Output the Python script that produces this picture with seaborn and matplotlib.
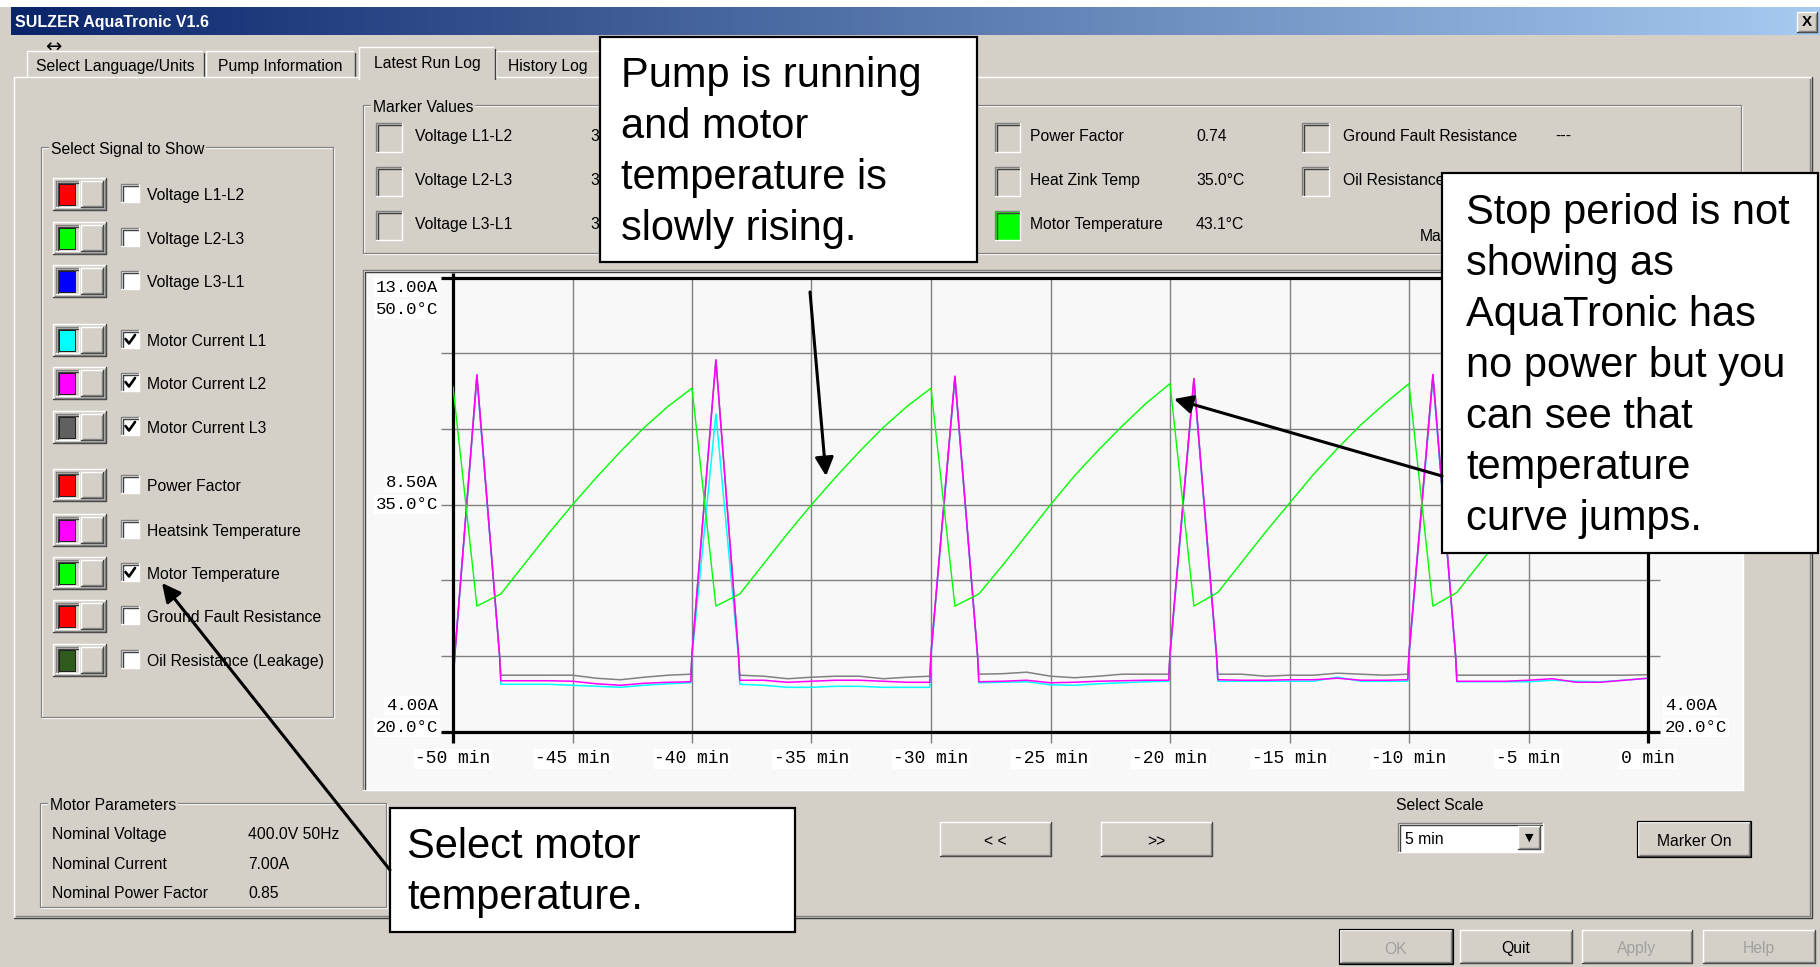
import matplotlib
matplotlib.use('Agg')
import matplotlib.pyplot as plt
from matplotlib.patches import Rectangle
from matplotlib.colors import LinearSegmentedColormap
import numpy as np
import pandas as pd
import seaborn as sns

# latest run log (minutes before now)
t_current = [-50, -49.92, -49, -48.05, -48, -47, -46, -45, -44, -43, -42, -41, -40.05,
             -40, -39, -38.05, -38, -37, -36, -35, -34, -33, -32, -31, -30.05,
             -30, -29, -28.05, -28, -27, -26, -25, -24, -23, -22, -21, -20.05,
             -20, -19, -18.05, -18, -17, -16, -15, -14, -13, -12, -11, -10.05,
             -10, -9, -8.05, -8, -7, -6, -5, -4, -3, -2, -1, 0]
current_l1 = [4.93, 5.55, 11.0, 5.5, 4.94, 4.94, 4.94, 4.92, 4.90, 4.88, 4.92, 4.95, 4.97,
              5.5, 10.3, 5.45, 4.94, 4.92, 4.88, 4.88, 4.90, 4.90, 4.88, 4.88, 4.88,
              5.5, 11.0, 5.5, 4.97, 4.98, 4.99, 4.93, 4.92, 4.95, 4.97, 4.99, 5.0,
              5.5, 10.95, 5.45, 5.0, 5.0, 5.0, 5.0, 5.0, 5.08, 5.0, 5.0, 5.0,
              5.5, 11.0, 5.5, 4.99, 4.99, 4.99, 4.99, 5.02, 5.0, 4.99, 5.02, 5.06]
current_l2 = [4.95, 5.55, 11.08, 5.5, 5.01, 5.01, 5.01, 5.0, 4.95, 4.92, 4.96, 4.98, 4.99,
              5.55, 11.37, 5.5, 5.02, 5.02, 4.98, 5.0, 5.02, 5.02, 5.0, 4.98, 4.98,
              5.55, 11.05, 5.5, 4.99, 5.0, 5.02, 4.97, 4.98, 5.0, 5.01, 5.02, 5.02,
              5.55, 11.0, 5.5, 5.03, 5.02, 5.02, 5.03, 5.03, 5.06, 5.02, 5.02, 5.03,
              5.55, 11.08, 5.5, 5.0, 5.0, 5.0, 5.02, 5.05, 4.98, 4.98, 5.02, 5.06]
current_l3 = [4.97, 5.55, 11.06, 5.5, 5.12, 5.12, 5.12, 5.12, 5.06, 5.03, 5.08, 5.12, 5.14,
              5.55, 11.37, 5.5, 5.12, 5.10, 5.05, 5.08, 5.10, 5.10, 5.05, 5.08, 5.10,
              5.55, 11.03, 5.5, 5.14, 5.15, 5.18, 5.10, 5.07, 5.10, 5.14, 5.14, 5.14,
              5.55, 11.0, 5.5, 5.14, 5.14, 5.10, 5.12, 5.12, 5.16, 5.14, 5.12, 5.14,
              5.55, 11.08, 5.5, 5.12, 5.12, 5.12, 5.12, 5.12, 5.12, 5.12, 5.12, 5.13]

t_temp = [-50, -49, -48, -47, -46, -45, -44, -43, -42, -41,
          -40, -39, -38, -37, -36, -35, -34, -33, -32, -31,
          -30, -29, -28, -27, -26, -25, -24, -23, -22, -21,
          -20, -19, -18, -17, -16, -15, -14, -13, -12, -11,
          -10, -9, -8, -7, -6, -5, -4, -3, -2, -1, 0]
motor_temp = [42.8, 28.3, 29.1, 31.1, 33.1, 35.0, 36.8, 38.5, 40.1, 41.5,
              42.7, 28.3, 29.1, 31.1, 33.1, 35.0, 36.8, 38.5, 40.1, 41.5,
              42.7, 28.3, 29.1, 31.0, 33.0, 35.0, 36.9, 38.6, 40.2, 41.7,
              43.0, 28.3, 29.2, 31.2, 33.2, 35.1, 37.0, 38.7, 40.3, 41.7,
              43.0, 28.3, 29.2, 31.2, 33.2, 35.1, 37.0, 38.7, 40.3, 41.7, 43.1]

x_ticks = [-50, -45, -40, -35, -30, -25, -20, -15, -10, -5, 0]
x_labels = ['-50 min', '-45 min', '-40 min', '-35 min', '-30 min', '-25 min',
            '-20 min', '-15 min', '-10 min', '-5 min', '0 min']
amp_grid = [5.5, 7.0, 8.5, 10.0, 11.5]
amp_ticks = [13.0, 8.5, 4.0]
amp_labels = ['13.00A', '8.50A', '4.00A']
temp_ticks = [50.0, 35.0, 20.0]
temp_labels = ['50.0°C', '35.0°C', '20.0°C']

signal_names = ['Voltage L1-L2', 'Voltage L2-L3', 'Voltage L3-L1', 'Motor Current L1',
                'Motor Current L2', 'Motor Current L3', 'Power Factor', 'Heatsink Temperature',
                'Motor Temperature', 'Ground Fault Resistance', 'Oil Resistance (Leakage)']
signal_colors = ['#FF0000', '#00FF00', '#0000FF', '#00FFFF', '#FF00FF', '#606060',
                 '#FF0000', '#FF00FF', '#00FF00', '#FF0000', '#2E5A1C']
signal_checked = [False, False, False, True, True, True, False, False, True, False, False]

marker_left = ['Voltage L1-L2', 'Voltage L2-L3', 'Voltage L3-L1']
marker_left_vals = ['3', '3', '3']
marker_mid = ['Power Factor', 'Heat Zink Temp', 'Motor Temperature']
marker_mid_vals = ['0.74', '35.0°C', '43.1°C']
marker_mid_fill = [None, None, '#00FF00']
marker_right = ['Ground Fault Resistance', 'Oil Resistance (Leakage)']
marker_right_vals = ['---', '']

motor_params = ['Nominal Voltage', 'Nominal Current', 'Nominal Power Factor']
motor_param_vals = ['400.0V 50Hz', '7.00A', '0.85']

tab_names = ['Select Language/Units', 'Pump Information', 'Latest Run Log', 'History Log']

notes = [['Pump is running', 'and motor', 'temperature is', 'slowly rising.'],
         ['Stop period is not', 'showing as', 'AquaTronic has', 'no power but you',
          'can see that', 'temperature', 'curve jumps.'],
         ['Select motor', 'temperature.']]

sns.set_style('white')
plt.rcParams['font.family'] = ['Liberation Sans', 'DejaVu Sans']
plt.rcParams['text.color'] = 'black'
plt.rcParams['xtick.color'] = 'black'
plt.rcParams['ytick.color'] = 'black'

W, H = 1820, 967
PX = 0.72
FACE = '#D4D0C8'
MONO = 'Liberation Mono'
GUI_SIZE = 11.3

fig = plt.figure(figsize=(W / 100, H / 100), dpi=100)
fig.patch.set_facecolor('white')

ui = fig.add_axes([0, 0, 1, 1], zorder=0)


def box(a, x0, y0, x1, y1, fc, ec='none', lw=0, z=1):
    a.add_patch(Rectangle((x0, y0), x1 - x0, y1 - y0, facecolor=fc, edgecolor=ec,
                          linewidth=lw * PX, zorder=z))


def edge(a, x0, y0, x1, y1, raised=True, z=2):
    if raised:
        tl, br, inner = 'white', '#404040', '#808080'
    else:
        tl, br, inner = '#808080', 'white', '#404040'
    a.plot([x0, x0, x1], [y1, y0, y0], color=tl, lw=1.4 * PX, zorder=z)
    a.plot([x0, x1, x1], [y1, y1, y0], color=br, lw=1.4 * PX, zorder=z)
    if raised:
        a.plot([x0 + 1.5, x1 - 1.5, x1 - 1.5], [y1 - 1.5, y1 - 1.5, y0 + 1.5], color=inner, lw=1.4 * PX, zorder=z)
    else:
        a.plot([x0 + 1.5, x0 + 1.5, x1 - 1.5], [y1 - 1.5, y0 + 1.5, y0 + 1.5], color=inner, lw=1.4 * PX, zorder=z)


def label(a, x, y, s, size=GUI_SIZE, color='black', ha='left', z=3, **kw):
    a.text(x, y, s, ha=ha, va='center_baseline', fontsize=size, color=color, zorder=z, **kw)


def button(a, x0, y0, x1, y1, s, color='black', default=False):
    box(a, x0, y0, x1, y1, FACE, z=2)
    edge(a, x0, y0, x1, y1, True, z=2.1)
    if default:
        a.add_patch(Rectangle((x0 - 1, y0 - 1), x1 - x0 + 2, y1 - y0 + 2, fill=False,
                              edgecolor='black', linewidth=1.2 * PX, zorder=2.2))
    label(a, (x0 + x1) / 2, (y0 + y1) / 2 + 1, s, ha='center', color=color)


def group(a, x0, y0, x1, y1, title):
    a.add_patch(Rectangle((x0 + 1.3, y0 + 1.3), x1 - x0, y1 - y0, fill=False, edgecolor='white',
                          linewidth=1.2 * PX, zorder=1.5))
    a.add_patch(Rectangle((x0, y0), x1 - x0, y1 - y0, fill=False, edgecolor='#808080',
                          linewidth=1.2 * PX, zorder=1.6))
    label(a, x0 + 10, y0 + 1, title, z=1.8,
          bbox=dict(boxstyle='square,pad=0.1', facecolor=FACE, edgecolor='none'))


def checkbox(a, x, y, checked):
    box(a, x, y, x + 18, y + 18, 'white', z=3)
    edge(a, x, y, x + 18, y + 18, False, z=3.1)
    if checked:
        a.plot([x + 4.5, x + 8, x + 14], [y + 9, y + 13.5, y + 5], color='black', lw=2.6 * PX, zorder=3.2)


# window, title bar, tabs
box(ui, 0, 7, W, H, FACE, z=0.5)
bar = LinearSegmentedColormap.from_list('bar', ['#0A246A', '#A6CAF0'])
ui.imshow(np.linspace(0, 1, 256)[None, :], cmap=bar, extent=(11, W, 35, 7), aspect='auto', zorder=0.6)
ui.text(15, 21, 'SULZER AquaTronic V1.6', color='white', fontweight='bold', fontsize=11.5,
        va='center_baseline', zorder=1)
box(ui, 1797, 12, 1817, 32, FACE, z=1)
edge(ui, 1797, 12, 1817, 32, True, z=1.1)
ui.text(1807, 22.5, 'X', fontweight='bold', fontsize=11, ha='center', va='center', zorder=1.2)

tab_spans = [(27, 204), (206, 355), (359, 495), (496, 600)]
for name, (x0, x1) in zip(tab_names, tab_spans):
    active = name == 'Latest Run Log'
    y0 = 47 if active else 51
    y1 = 79 if active else 77
    box(ui, x0, y0, x1, y1, FACE, z=1.2 if active else 1)
    ui.plot([x0, x0, x1 - 2], [y1, y0, y0], color='white', lw=1.4 * PX, zorder=1.3 if active else 1.1)
    ui.plot([x1, x1], [y0 + 2, y1], color='#404040', lw=1.4 * PX, zorder=1.3 if active else 1.1)
    label(ui, (x0 + x1) / 2, 62 if active else 65, name, ha='center', z=1.4)
ui.text(53, 47, '↔', fontsize=14, ha='center', va='center', zorder=1.5, family=['DejaVu Sans'])

ui.plot([14, 14, 1812], [918, 77, 77], color='white', lw=1.4 * PX, zorder=1.15)
ui.plot([14, 1812, 1812], [918, 918, 77], color='#404040', lw=1.4 * PX, zorder=1.15)
ui.plot([16, 1810, 1810], [916, 916, 79], color='#808080', lw=1.4 * PX, zorder=1.15)
box(ui, 360, 76, 494, 80, FACE, z=1.25)

# signal selector
group(ui, 41, 147, 333, 717, 'Select Signal to Show')
row_y = [194, 238, 281, 340, 383, 427, 485, 530, 573, 616, 660]
for y, name, col, chk in zip(row_y, signal_names, signal_colors, signal_checked):
    box(ui, 53, y - 16, 106, y + 16, FACE, z=2)
    edge(ui, 53, y - 16, 106, y + 16, True, z=2.1)
    edge(ui, 56, y - 13, 79, y + 13, False, z=2.2)
    box(ui, 59, y - 10, 75, y + 11, col, ec='#202020', lw=1, z=2.3)
    edge(ui, 81, y - 13, 103, y + 13, True, z=2.2)
    checkbox(ui, 121, y - 10, chk)
    label(ui, 147, y, name)

# marker values
group(ui, 363, 105, 1741, 253, 'Marker Values')
mark_y = [135, 179, 223]
for y, name, val in zip(mark_y, marker_left, marker_left_vals):
    edge(ui, 376, y - 12, 402, y + 17, False, z=2)
    label(ui, 415, y, name)
    label(ui, 590, y, val)
for y, name, val, fill in zip(mark_y, marker_mid, marker_mid_vals, marker_mid_fill):
    if fill:
        box(ui, 995, y - 12, 1020, y + 17, fill, z=1.9)
    edge(ui, 995, y - 12, 1020, y + 17, False, z=2)
    label(ui, 1030, y, name)
    label(ui, 1196, y, val)
for y, name, val in zip(mark_y, marker_right, marker_right_vals):
    edge(ui, 1302, y - 12, 1329, y + 17, False, z=2)
    label(ui, 1343, y, name)
    label(ui, 1555, y, val)
label(ui, 1420, 235, 'Ma')

# chart panel
box(ui, 363, 270, 1743, 790, '#F8F8F8', z=1.5)
edge(ui, 363, 270, 1743, 790, False, z=1.6)

# motor parameters
group(ui, 40, 803, 386, 907, 'Motor Parameters')
for y, name, val in zip([833, 863, 892], motor_params, motor_param_vals):
    label(ui, 52, y, name)
    label(ui, 248, y, val)

# controls under the chart
button(ui, 940, 822, 1051, 856, '< <')
button(ui, 1101, 822, 1212, 856, '>>')
label(ui, 1396, 804, 'Select Scale')
box(ui, 1398, 823, 1543, 852, 'white', z=2)
edge(ui, 1398, 823, 1543, 852, False, z=2.1)
label(ui, 1405, 838, '5 min')
box(ui, 1518, 826, 1540, 849, FACE, z=2.2)
edge(ui, 1518, 826, 1540, 849, True, z=2.3)
ui.text(1529, 838, '▼', fontsize=8, ha='center', va='center', zorder=2.4, family=['DejaVu Sans'])
button(ui, 1638, 822, 1750, 856, 'Marker On', default=True)

button(ui, 1340, 930, 1452, 963, 'OK', color='#A0A0A0', default=True)
button(ui, 1460, 930, 1572, 963, 'Quit')
button(ui, 1582, 930, 1692, 963, 'Apply', color='#A0A0A0')
button(ui, 1703, 930, 1815, 963, 'Help', color='#A0A0A0')

ui.set_xlim(0, W)
ui.set_ylim(H, 0)
ui.axis('off')

# the run log chart
ax = fig.add_axes([453 / W, 1 - 731.7 / H, (1648 - 453) / W, 454 / H], zorder=2)
ax.patch.set_alpha(0)
df_cur = pd.DataFrame({'t': t_current, 'L1': current_l1, 'L2': current_l2, 'L3': current_l3})
for col, c in [('L1', '#00FFFF'), ('L3', '#808080'), ('L2', '#FF00FF')]:
    sns.lineplot(data=df_cur, x='t', y=col, ax=ax, color=c, linewidth=1.1,
                 estimator=None, sort=False, zorder=3)
ax.set_xlim(-50, 0)
ax.set_ylim(4, 13)
for s in ax.spines.values():
    s.set_visible(False)
ax.hlines(amp_grid, -50.5, 0.5, color='#808080', lw=1.4 * PX, clip_on=False, zorder=1)
ax.vlines(x_ticks[1:-1], 3.78, 13, color='#808080', lw=1.4 * PX, clip_on=False, zorder=1)
ax.hlines([4, 13], -50.5, 0.5, color='black', lw=3.2 * PX, clip_on=False, zorder=4)
ax.vlines([-50, 0], 3.78, 13.1, color='black', lw=3.2 * PX, clip_on=False, zorder=4)
ax.set_xticks(x_ticks)
ax.set_xticklabels(x_labels, family=MONO, fontsize=13, color='black')
ax.tick_params(axis='x', length=0, pad=13.5)
ax.set_yticks([])
ax.set_xlabel('')
ax.set_ylabel('')
for t in ax.get_xticklabels():
    t.set_bbox(dict(boxstyle='square,pad=0.1', facecolor='white', edgecolor='none'))

lab_box = dict(boxstyle='square,pad=0.1', facecolor='white', edgecolor='none')
for v, s, dy in zip(amp_ticks, amp_labels, [-10, 22, 26]):
    ax.annotate(s, xy=(0, v), xycoords=('axes fraction', 'data'), xytext=(-15, dy),
                textcoords='offset pixels', ha='right', va='center', family=MONO, fontsize=12.5,
                annotation_clip=False, bbox=lab_box, color='black')
ax.annotate(amp_labels[-1], xy=(1, amp_ticks[-1]), xycoords=('axes fraction', 'data'), xytext=(17, 26),
            textcoords='offset pixels', ha='left', va='center', family=MONO, fontsize=12.5,
            annotation_clip=False, bbox=lab_box, color='black')

ax2 = ax.twinx()
df_temp = pd.DataFrame({'t': t_temp, 'temp': motor_temp})
sns.lineplot(data=df_temp, x='t', y='temp', ax=ax2, color='#00FF00', linewidth=1.0, estimator=None)
ax2.set_xlim(-50, 0)
ax2.set_ylim(20, 50)
ax2.set_yticks([])
ax2.set_ylabel('')
for s in ax2.spines.values():
    s.set_visible(False)
for v, s, dy in zip(temp_ticks, temp_labels, [-32, 0, 4]):
    ax2.annotate(s, xy=(0, v), xycoords=('axes fraction', 'data'), xytext=(-15, dy),
                 textcoords='offset pixels', ha='right', va='center', family=MONO, fontsize=12.5,
                 annotation_clip=False, bbox=lab_box, color='black')
ax2.annotate(temp_labels[-1], xy=(1, temp_ticks[-1]), xycoords=('axes fraction', 'data'), xytext=(17, 4),
             textcoords='offset pixels', ha='left', va='center', family=MONO, fontsize=12.5,
             annotation_clip=False, bbox=lab_box, color='black')

# callouts
ov = fig.add_axes([0, 0, 1, 1], zorder=10)
ov.set_xlim(0, W)
ov.set_ylim(H, 0)
ov.axis('off')
boxes = [(600, 37, 977, 262), (1442, 173, 1818, 553), (390, 808, 795, 932)]
text_x = [621, 1466, 407]
first_base = [87, 224, 858]
for lines, (x0, y0, x1, y1), tx, b0 in zip(notes, boxes, text_x, first_base):
    ov.add_patch(Rectangle((x0, y0), x1 - x0, y1 - y0, facecolor='white', edgecolor='black',
                           linewidth=2.2 * PX, zorder=1))
    for i, line in enumerate(lines):
        ov.text(tx, b0 + 51 * i, line, fontsize=30, va='baseline', ha='left', zorder=2, color='black')
arrows = [((810, 292), (826, 476)), ((1442, 476), (1174, 399)), ((390, 870), (162, 583))]
for tail, head in arrows:
    ov.annotate('', xy=head, xytext=tail,
                arrowprops=dict(arrowstyle='-|>', color='black', lw=2.2, mutation_scale=28,
                                shrinkA=0, shrinkB=0), zorder=3)

fig.savefig('out.png', dpi=100, facecolor=fig.get_facecolor())
